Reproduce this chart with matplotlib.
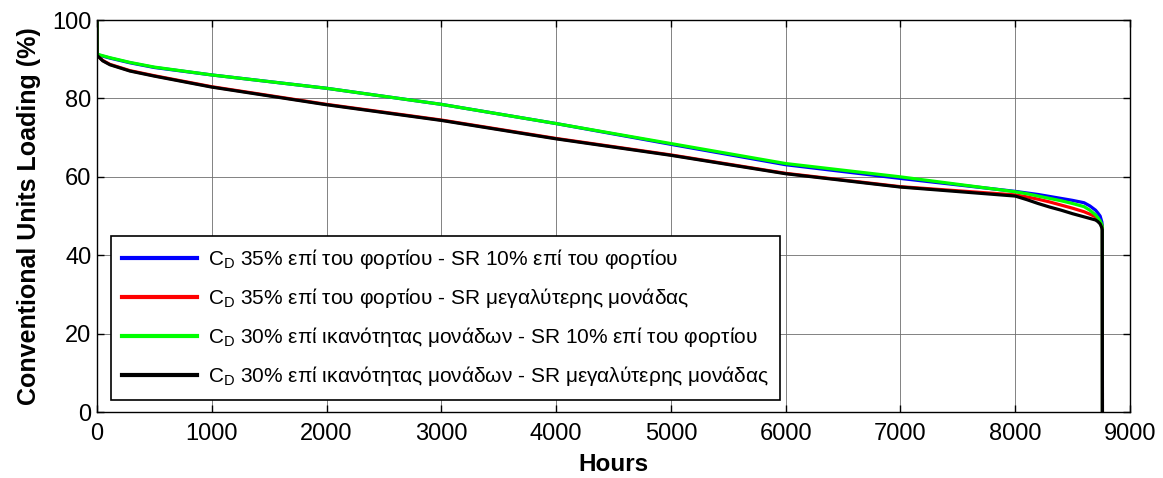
import matplotlib
matplotlib.use("Agg")
import matplotlib.pyplot as plt

plt.rcParams['font.family'] = ['Liberation Sans', 'DejaVu Sans']
plt.rcParams['mathtext.fontset'] = 'custom'
plt.rcParams['mathtext.rm'] = 'Liberation Sans'

hours = [0, 1, 50, 113, 287, 500, 1000, 2000, 3000, 4000, 5000, 6000, 7000,
         8000, 8100, 8200, 8300, 8400, 8500, 8600, 8650, 8700, 8720, 8740,
         8755, 8759, 8760]

blue = [100, 91.2, 90.8, 90.3, 89.1, 87.9, 86.0, 82.6, 78.5, 73.6, 68.3, 63.1, 59.6,
        56.3, 55.9, 55.5, 55.0, 54.5, 54.0, 53.4, 52.6, 51.5, 50.8, 50.0,
        48.5, 47.5, 0]
green = [100, 91.3, 90.9, 90.4, 89.2, 88.0, 86.0, 82.6, 78.5, 73.6, 68.5, 63.4, 60.0,
         56.2, 55.7, 55.1, 54.5, 53.9, 53.2, 52.4, 51.5, 50.3, 49.6, 48.8,
         47.8, 47.0, 0]
red = [100, 91.0, 89.7, 88.7, 87.1, 85.8, 83.0, 78.5, 74.5, 69.8, 65.6, 60.9, 57.5,
       55.4, 54.9, 54.3, 53.6, 52.8, 52.0, 51.1, 50.5, 49.8, 49.2, 48.5,
       47.6, 47.0, 0]
black = [100, 91.0, 89.6, 88.6, 87.0, 85.7, 82.9, 78.4, 74.4, 69.7, 65.5, 60.8, 57.4,
         55.1, 54.2, 53.2, 52.3, 51.5, 50.6, 49.8, 49.4, 49.0, 48.6, 48.0,
         47.0, 46.5, 0]

labels = [
    r"C$_{\mathrm{D}}$ 35% επί του φορτίου - SR 10% επί του φορτίου",
    r"C$_{\mathrm{D}}$ 35% επί του φορτίου - SR μεγαλύτερης μονάδας",
    r"C$_{\mathrm{D}}$ 30% επί ικανότητας μονάδων - SR 10% επί του φορτίου",
    r"C$_{\mathrm{D}}$ 30% επί ικανότητας μονάδων - SR μεγαλύτερης μονάδας",
]
colors = ['#0000FF', '#FF0000', '#00FF00', '#000000']
series = [blue, red, green, black]

xticks = [0, 1000, 2000, 3000, 4000, 5000, 6000, 7000, 8000, 9000]
yticks = [0, 20, 40, 60, 80, 100]

fig = plt.figure(figsize=(11.63, 4.78), dpi=100)
ax = fig.add_axes([0.0834, 0.138, 0.8882, 0.820])

for vals, c, lab in zip(series, colors, labels):
    ax.plot(hours, vals, color=c, lw=2.3, label=lab)

ax.set_xlim(0, 9000)
ax.set_ylim(0, 100)
ax.set_xticks(xticks)
ax.set_yticks(yticks)
ax.grid(True, color='#6e6e6e', lw=0.6)
ax.tick_params(direction='in', length=5, width=1, top=True, right=True,
               labelsize=17)
ax.tick_params(axis='x', pad=8)
ax.tick_params(axis='y', pad=4)
for s in ax.spines.values():
    s.set_linewidth(1.0)

ax.set_xlabel("Hours", fontsize=17.5, fontweight='bold', labelpad=6)
ax.set_ylabel("Conventional Units Loading (%)", fontsize=18, fontweight='bold', labelpad=8)

leg = ax.legend(loc='lower left', bbox_to_anchor=(0.0135, 0.031), borderaxespad=0,
                fontsize=15, fancybox=False, framealpha=1, edgecolor='black',
                handlelength=3.6, handletextpad=0.5, labelspacing=0.72,
                borderpad=0.55)
leg.get_frame().set_linewidth(1.2)
for l in leg.get_lines():
    l.set_linewidth(3)

fig.savefig("out.png", dpi=100)
